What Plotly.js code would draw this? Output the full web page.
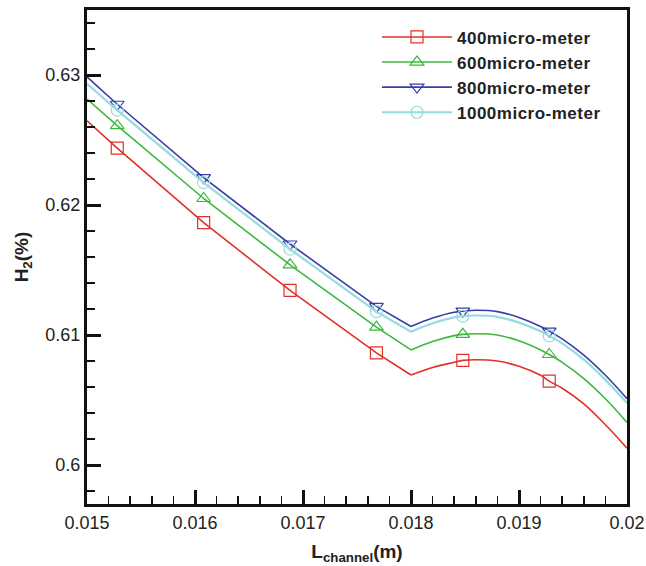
<!DOCTYPE html>
<html><head><meta charset="utf-8">
<script src="https://cdn.plot.ly/plotly-3.0.1.min.js"></script>
<style>html,body{margin:0;padding:0;background:#fff}
.legendtext{letter-spacing:0.5px}</style>
</head><body><div id="chart" style="width:646px;height:566px"></div>
<script>
// Channel length (m)
const lChannel = [0.015, 0.01528, 0.01608, 0.01688, 0.01768, 0.018, 0.0182, 0.0184, 0.01848, 0.0186, 0.0188, 0.019, 0.0192, 0.01928, 0.0194, 0.0196, 0.0198, 0.02];
// Positions where symbols are drawn
const symbolX = [0.01528, 0.01608, 0.01688, 0.01768, 0.01848, 0.01928];
// Position of the bend in the curves
const bendX = 0.018;
// H2 (%) for each channel width
const h2_400 = [0.62648, 0.62438, 0.61864, 0.61343, 0.60862, 0.60692, 0.6075, 0.6079, 0.60805, 0.6081, 0.608, 0.6076, 0.6069, 0.60645, 0.6059, 0.6047, 0.6031, 0.6013];
const h2_600 = [0.62815, 0.6261, 0.6205, 0.6154, 0.6106, 0.60885, 0.6095, 0.60995, 0.61005, 0.6101, 0.61, 0.60955, 0.60885, 0.6085, 0.6079, 0.60665, 0.6051, 0.60328];
const h2_800 = [0.62985, 0.62775, 0.6221, 0.617, 0.6122, 0.61065, 0.6113, 0.61175, 0.61183, 0.6119, 0.6118, 0.61135, 0.61065, 0.6103, 0.6097, 0.60845, 0.6069, 0.6051];
const h2_1000 = [0.62933, 0.6273, 0.62172, 0.6166, 0.6118, 0.61025, 0.6109, 0.61135, 0.61145, 0.6115, 0.6114, 0.61095, 0.61028, 0.60993, 0.60935, 0.6081, 0.60655, 0.60477];
const seriesNames = ['400micro-meter', '600micro-meter', '800micro-meter', '1000micro-meter'];
const xTickVals = [0.015, 0.016, 0.017, 0.018, 0.019, 0.02];
const xTickText = ['0.015', '0.016', '0.017', '0.018', '0.019', '0.02'];
const yTickVals = [0.6, 0.61, 0.62, 0.63];
const yTickText = ['0.6', '0.61', '0.62', '0.63'];

const seriesY = [h2_400, h2_600, h2_800, h2_1000];
const colors = ['#e0302a', '#3cb83c', '#3a3ca8', '#96dcdc'];
const symbols = ['square-open', 'triangle-up-open', 'triangle-down-open', 'circle-open'];
const widths = [1.6, 1.6, 1.6, 2.2];
const FONT = 'Liberation Sans, Arial, Helvetica, sans-serif';

const bendIdx = lChannel.findIndex(x => Math.abs(x - bendX) < 1e-9);
function symbolIdx(xs) {
  const out = [];
  xs.forEach((x, i) => { if (symbolX.some(s => Math.abs(s - x) < 1e-9)) out.push(i); });
  return out;
}

const traces = [];
seriesY.forEach((y, i) => {
  const parts = [
    {x: lChannel.slice(0, bendIdx + 1), y: y.slice(0, bendIdx + 1), shape: 'linear', legend: true},
    {x: lChannel.slice(bendIdx), y: y.slice(bendIdx), shape: 'spline', legend: false}
  ];
  parts.forEach(p => {
    traces.push({
      x: p.x, y: p.y, name: seriesNames[i], legendgroup: 'g' + i, showlegend: p.legend,
      type: 'scatter', mode: 'lines+markers',
      line: {color: colors[i], width: widths[i], shape: p.shape, smoothing: 1},
      marker: {symbol: symbols[i], size: 12, color: colors[i], line: {color: colors[i], width: 1.2}},
      selectedpoints: symbolIdx(p.x),
      selected: {marker: {opacity: 1}},
      unselected: {marker: {opacity: 0}}
    });
  });
});

const axisBase = {
  showgrid: false, zeroline: false, showline: true, linewidth: 3, linecolor: '#111', mirror: true,
  ticks: 'inside', ticklen: 14, tickwidth: 3, tickcolor: '#111',
  tickfont: {family: FONT, size: 18, color: '#222'}
};

const layout = {
  width: 646, height: 566,
  margin: {l: 87, r: 19, t: 10, b: 62},
  paper_bgcolor: '#fff', plot_bgcolor: '#fff',
  showlegend: true,
  legend: {x: 0.537, y: 0.981, xanchor: 'left', yanchor: 'top', bgcolor: 'rgba(0,0,0,0)',
    font: {family: FONT, size: 17, color: '#222', weight: 'bold'}, tracegroupgap: 0, itemwidth: 70},
  xaxis: Object.assign({}, axisBase, {
    range: [0.015, 0.02], tickmode: 'array', tickvals: xTickVals, ticktext: xTickText,
    minor: {ticks: 'inside', ticklen: 8, tickwidth: 1.5, tickcolor: '#111', tickmode: 'linear', tick0: 0.015, dtick: 0.0002, showgrid: false},
    title: {text: 'L<sub>channel</sub>(m)', font: {family: FONT, size: 19, color: '#222', weight: 'bold'}, standoff: 14}
  }),
  yaxis: Object.assign({}, axisBase, {
    range: [0.597, 0.635], tickmode: 'array', tickvals: yTickVals, ticktext: yTickText,
    minor: {ticks: 'inside', ticklen: 8, tickwidth: 1.5, tickcolor: '#111', tickmode: 'linear', tick0: 0.6, dtick: 0.002, showgrid: false},
    title: {text: 'H<sub>2</sub>(%)', font: {family: FONT, size: 19, color: '#222', weight: 'bold'}, standoff: 12}
  })
};

Plotly.newPlot('chart', traces, layout, {displayModeBar: false, staticPlot: true});
</script></body></html>
